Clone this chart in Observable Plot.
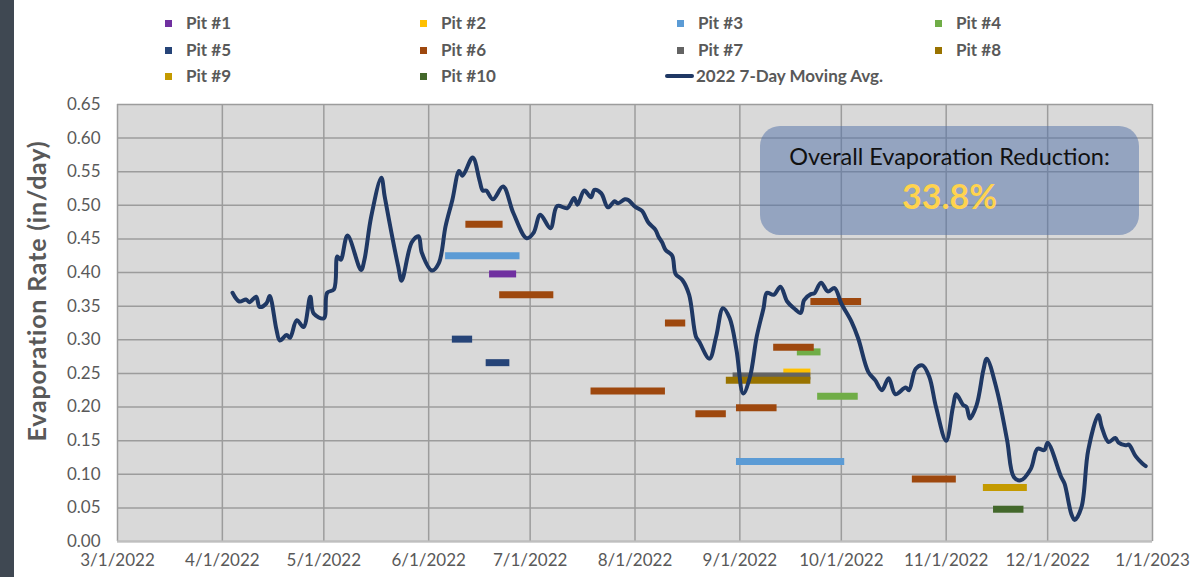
<!DOCTYPE html>
<html>
<head>
<meta charset="utf-8">
<script src="https://cdn.jsdelivr.net/npm/d3@7"></script>
<script src="https://cdn.jsdelivr.net/npm/@observablehq/plot@0.6"></script>
<style>
  body { margin: 0; background: #fff; font-family: Lato, "Noto Sans", sans-serif; }
  #wrap { position: relative; width: 1191px; height: 577px; overflow: hidden; background: #fff; }
  #strip { position: absolute; left: 0; top: 0; width: 14px; height: 577px; background: #3f4852; }
  #legend { position: relative; height: 92px; }
  .li { position: absolute; font-weight: 700; font-size: 17px; color: #595959; line-height: 20px; white-space: nowrap; }
  .sw { position: absolute; width: 7px; height: 7px; }
  .ln { position: absolute; height: 4px; border-radius: 2px; background: #1f3864; }
  #ytitle { position: absolute; left: 36px; top: 291px; transform: translate(-50%, -50%) rotate(-90deg);
            font-size: 25px; font-weight: 700; color: #595959; white-space: nowrap; letter-spacing: 0.8px; }
  #box { position: absolute; left: 760px; top: 126px; width: 379px; height: 109px; border-radius: 20px;
         background: rgba(80,112,168,0.5); text-align: center; }
  #box .t1 { position: absolute; left: 0; right: 0; top: 16px; font-size: 23.5px; color: #111; }
  #box .t2 { position: absolute; left: 0; right: 0; top: 49px; font-size: 34px; font-weight: 700; color: #ffd34e; }
  svg { display: block; }
</style>
</head>
<body>
<div id="wrap">
  <div id="strip"></div>
  <div id="legend"></div>
  <div id="chart"></div>
  <div id="ytitle"></div>
  <div id="box"><div class="t1">Overall Evaporation Reduction:</div><div class="t2">33.8%</div></div>
</div>
<script>
// ---------- data ----------
const yTitle = "Evaporation Rate (in/day)";
const lineName = "2022 7-Day Moving Avg.";
const pitNames = ["Pit #1","Pit #2","Pit #3","Pit #4","Pit #5","Pit #6","Pit #7","Pit #8","Pit #9","Pit #10"];
const pitColors = ["#7030a0","#ffc000","#5b9bd5","#70ad47","#264478","#9e480e","#636363","#997300","#c49a00","#43682b"];

const avgDates = [
 "2022-04-04","2022-04-06","2022-04-08","2022-04-09","2022-04-11","2022-04-12","2022-04-14","2022-04-15","2022-04-17","2022-04-18",
 "2022-04-20","2022-04-21","2022-04-23","2022-04-25","2022-04-27","2022-04-28","2022-05-01","2022-05-02","2022-05-04","2022-05-05",
 "2022-05-06","2022-05-08","2022-05-12","2022-05-13","2022-05-15","2022-05-18","2022-05-19","2022-05-21","2022-05-23","2022-05-24",
 "2022-05-27","2022-05-29","2022-05-30","2022-06-02","2022-06-04","2022-06-06","2022-06-08","2022-06-10","2022-06-11","2022-06-14",
 "2022-06-16","2022-06-17","2022-06-18","2022-06-20","2022-06-23","2022-06-26","2022-06-30","2022-07-02","2022-07-04","2022-07-07",
 "2022-07-09","2022-07-12","2022-07-14","2022-07-15","2022-07-17","2022-07-19","2022-07-20","2022-07-22","2022-07-24","2022-07-26",
 "2022-07-27","2022-07-29","2022-07-30","2022-08-01","2022-08-03","2022-08-05","2022-08-07","2022-08-08","2022-08-09","2022-08-10",
 "2022-08-12","2022-08-13","2022-08-15","2022-08-17","2022-08-19","2022-08-20","2022-08-23","2022-08-25","2022-08-27","2022-08-29",
 "2022-08-31","2022-09-02","2022-09-04","2022-09-06","2022-09-08","2022-09-09","2022-09-11","2022-09-13","2022-09-15","2022-09-17",
 "2022-09-19","2022-09-20","2022-09-22","2022-09-23","2022-09-25","2022-09-27","2022-09-29","2022-10-01","2022-10-04","2022-10-06",
 "2022-10-09","2022-10-11","2022-10-13","2022-10-15","2022-10-17","2022-10-20","2022-10-21","2022-10-23","2022-10-25","2022-10-27",
 "2022-10-29","2022-11-01","2022-11-03","2022-11-04","2022-11-06","2022-11-07","2022-11-08","2022-11-10","2022-11-12","2022-11-13",
 "2022-11-16","2022-11-19","2022-11-21","2022-11-23","2022-11-26","2022-11-28","2022-11-30","2022-12-01","2022-12-05","2022-12-06",
 "2022-12-08","2022-12-09","2022-12-11","2022-12-13","2022-12-16","2022-12-17","2022-12-19","2022-12-21","2022-12-22","2022-12-24",
 "2022-12-25","2022-12-27","2022-12-29","2022-12-30"
];
const avgValues = [
 0.370,0.357,0.360,0.356,0.364,0.349,0.354,0.365,0.315,0.299,
 0.307,0.303,0.329,0.319,0.364,0.339,0.332,0.370,0.375,0.424,
 0.419,0.455,0.404,0.419,0.483,0.541,0.513,0.459,0.409,0.388,
 0.445,0.454,0.429,0.403,0.414,0.469,0.508,0.551,0.544,0.571,
 0.538,0.522,0.522,0.509,0.528,0.489,0.451,0.459,0.486,0.466,
 0.499,0.496,0.511,0.501,0.522,0.512,0.523,0.518,0.497,0.506,
 0.503,0.509,0.508,0.498,0.492,0.474,0.464,0.453,0.445,0.434,
 0.425,0.398,0.389,0.367,0.305,0.297,0.272,0.305,0.347,0.332,
 0.285,0.220,0.245,0.305,0.347,0.370,0.367,0.379,0.357,0.347,
 0.340,0.359,0.368,0.369,0.385,0.372,0.377,0.354,0.327,0.302,
 0.252,0.240,0.225,0.243,0.219,0.229,0.225,0.257,0.262,0.245,
 0.200,0.150,0.200,0.219,0.203,0.200,0.183,0.203,0.255,0.272,
 0.225,0.151,0.096,0.091,0.108,0.138,0.136,0.147,0.096,0.086,
 0.041,0.032,0.051,0.136,0.188,0.170,0.148,0.154,0.147,0.143,
 0.144,0.127,0.116,0.112
];

// pit test periods: pit index (1-based), start, end, average rate
const segPit   = [1, 2, 3, 3, 4, 4, 5, 5, 6, 6, 6, 6, 6, 6, 6, 6, 6, 7, 8, 9, 10];
const segStart = ["2022-06-19","2022-09-14","2022-06-06","2022-08-31","2022-09-18","2022-09-24","2022-06-08","2022-06-18",
                  "2022-06-12","2022-06-22","2022-07-19","2022-08-10","2022-08-19","2022-08-31","2022-09-11","2022-09-22","2022-10-22",
                  "2022-08-30","2022-08-28","2022-11-12","2022-11-15"];
const segEnd   = ["2022-06-27","2022-09-22","2022-06-28","2022-10-02","2022-09-25","2022-10-06","2022-06-14","2022-06-25",
                  "2022-06-23","2022-07-08","2022-08-10","2022-08-16","2022-08-28","2022-09-12","2022-09-23","2022-10-07","2022-11-04",
                  "2022-09-22","2022-09-22","2022-11-25","2022-11-24"];
const segValue = [0.398, 0.252, 0.425, 0.119, 0.282, 0.216, 0.301, 0.266,
                  0.472, 0.367, 0.224, 0.325, 0.190, 0.199, 0.289, 0.357, 0.093,
                  0.246, 0.240, 0.0805, 0.048];

const yTicks = [0,0.05,0.10,0.15,0.20,0.25,0.30,0.35,0.40,0.45,0.50,0.55,0.60,0.65];
const xStart = "2022-03-01", xEnd = "2023-01-01";

// ---------- build ----------
const x0 = new Date(xStart), x1 = new Date(xEnd);
const monthTicks = d3.utcMonth.range(x0, d3.utcDay.offset(x1, 1));
const fmtDate = d => `${d.getUTCMonth() + 1}/${d.getUTCDate()}/${d.getUTCFullYear()}`;

const lineData = avgDates.map((d, i) => ({date: new Date(d), v: avgValues[i]}));
const segments = segPit.map((p, i) => ({pit: p, start: new Date(segStart[i]), end: new Date(segEnd[i]), v: segValue[i], color: pitColors[p - 1]}))
  .sort((a, b) => a.pit - b.pit);

const chart = Plot.plot({
  width: 1191,
  height: 485,
  marginTop: 12,
  marginBottom: 36,
  marginLeft: 117,
  marginRight: 39,
  style: {fontFamily: "Lato, 'Noto Sans', sans-serif", fontSize: "17px", color: "#595959", background: "transparent", overflow: "visible"},
  x: {type: "utc", domain: [x0, x1]},
  y: {domain: [0, 0.65]},
  color: {type: "identity"},
  marks: [
    Plot.frame({fill: "#d9d9d9"}),
    Plot.gridY(yTicks, {stroke: "#9c9c9c", strokeOpacity: 1, strokeWidth: 1.5}),
    Plot.gridX(monthTicks, {stroke: "#9c9c9c", strokeOpacity: 1, strokeWidth: 1.5}),
    Plot.ruleY([0], {stroke: "#bfbfbf", strokeWidth: 2}),
    Plot.axisY(yTicks, {tickSize: 0, tickPadding: 17, tickFormat: d3.format(".2f"), label: null, fontSize: 17, fill: "#595959"}),
    Plot.axisX(monthTicks, {tickSize: 0, tickPadding: 12, tickFormat: fmtDate, label: null, fontSize: 17, fill: "#595959"}),
    Plot.ruleY(segments, {x1: "start", x2: "end", y: "v", stroke: "color", strokeWidth: 7}),
    Plot.line(lineData, {x: "date", y: "v", stroke: "#1f3864", strokeWidth: 4, curve: "catmull-rom"})
  ]
});
document.getElementById("chart").appendChild(chart);
document.getElementById("ytitle").textContent = yTitle;

// legend
const legend = document.getElementById("legend");
const colX = [168, 423, 680, 938], rowY = [23, 50, 76];
const items = pitNames.map((n, i) => ({name: n, color: pitColors[i], type: "sq"}));
items.push({name: lineName, color: "#1f3864", type: "line"});
items.forEach((it, i) => {
  const c = i % 4, r = Math.floor(i / 4);
  const cx = colX[c], cy = rowY[r];
  if (it.type === "sq") {
    const s = document.createElement("div");
    s.className = "sw"; s.style.left = (cx - 3.5) + "px"; s.style.top = (cy - 3.5) + "px"; s.style.background = it.color;
    legend.appendChild(s);
    const t = document.createElement("div");
    t.className = "li"; t.textContent = it.name; t.style.left = (cx + 18) + "px"; t.style.top = (cy - 10) + "px";
    legend.appendChild(t);
  } else {
    const l = document.createElement("div");
    l.className = "ln"; l.style.left = (cx - 15) + "px"; l.style.width = "29px"; l.style.top = (cy - 2) + "px";
    legend.appendChild(l);
    const t = document.createElement("div");
    t.className = "li"; t.textContent = it.name; t.style.left = (cx + 16) + "px"; t.style.top = (cy - 10) + "px";
    legend.appendChild(t);
  }
});
</script>
</body>
</html>
